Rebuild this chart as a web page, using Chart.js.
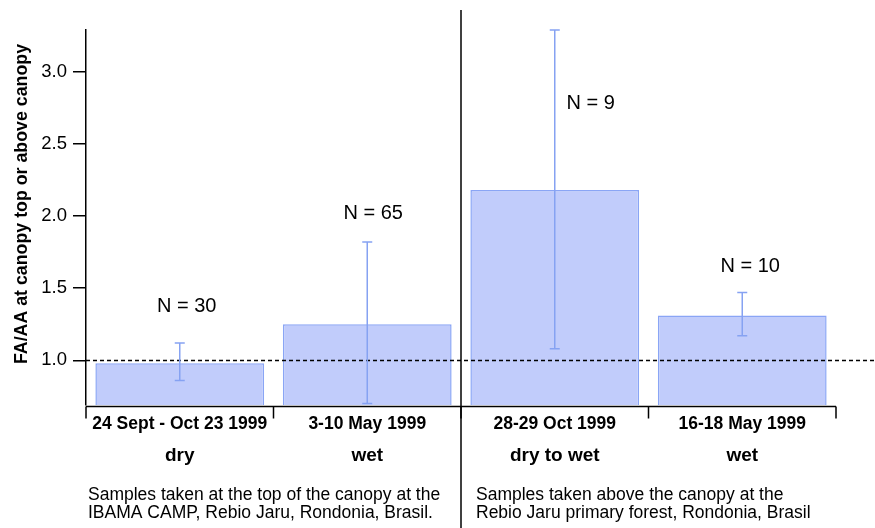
<!DOCTYPE html>
<html>
<head>
<meta charset="utf-8">
<script src="https://cdn.jsdelivr.net/npm/chart.js@4"></script>
<style>
  html, body { margin: 0; padding: 0; background: #fff; }
  #wrap { width: 875px; height: 528px; }
</style>
</head>
<body>
<div id="wrap"><canvas id="faChart" width="875" height="528"></canvas></div>
<script>
// Chart data
const dateLabels = ['24 Sept - Oct 23 1999', '3-10 May 1999', '28-29 Oct 1999', '16-18 May 1999'];
const seasonLabels = ['dry', 'wet', 'dry to wet', 'wet'];
const ratioMeans = [0.98, 1.25, 2.18, 1.31];
const errLow = [0.86, 0.70, 1.08, 1.17];
const errHigh = [1.12, 1.82, 3.29, 1.47];
const sampleCounts = [30, 65, 9, 10];
const yTicks = [1.0, 1.5, 2.0, 2.5, 3.0];
const yMin = 0.69;
const yMax = 3.29;
const refLine = 1.0;
const siteNotes = [
    ['Samples taken at the top of the canopy at the', 'IBAMA CAMP, Rebio Jaru, Rondonia, Brasil.'],
    ['Samples taken above the canopy at the', 'Rebio Jaru primary forest, Rondonia, Brasil']
];

// where the "N = .." text sits (x shift in px from bar centre, y in data units)
const nLabelSpots = [
    { dx: 7, y: 1.37 },
    { dx: 6, y: 2.02 },
    { dx: 36, y: 2.78 },
    { dx: 8, y: 1.65 }
];

const FONT = '"Liberation Sans", Arial, sans-serif';
const barFill = '#c1ccfb';
const barEdge = '#8aa5f5';
const errColor = '#86a2f2';

const extrasPlugin = {
    id: 'extras',
    afterDatasetsDraw(chart) {
        const ctx = chart.ctx;
        const x = chart.scales.x;
        const y = chart.scales.y;
        const area = chart.chartArea;

        ctx.save();

        // dashed reference line at 1.0
        ctx.strokeStyle = '#000';
        ctx.lineWidth = 1.5;
        ctx.setLineDash([4, 3]);
        const yRef = Math.round(y.getPixelForValue(refLine)) + 0.5;
        ctx.beginPath();
        ctx.moveTo(area.left, yRef);
        ctx.lineTo(875, yRef);
        ctx.stroke();
        ctx.setLineDash([]);

        // error bars
        ctx.strokeStyle = errColor;
        ctx.lineWidth = 1.5;
        ratioMeans.forEach((v, i) => {
            const cx = x.getPixelForValue(i);
            const yl = y.getPixelForValue(errLow[i]);
            const yh = y.getPixelForValue(errHigh[i]);
            ctx.beginPath();
            ctx.moveTo(cx, yl);
            ctx.lineTo(cx, yh);
            ctx.moveTo(cx - 5, yl);
            ctx.lineTo(cx + 5, yl);
            ctx.moveTo(cx - 5, yh);
            ctx.lineTo(cx + 5, yh);
            ctx.stroke();
        });

        // N labels
        ctx.fillStyle = '#000';
        ctx.font = '20px ' + FONT;
        ctx.textAlign = 'center';
        ctx.textBaseline = 'middle';
        sampleCounts.forEach((n, i) => {
            const spot = nLabelSpots[i];
            ctx.fillText('N = ' + n, x.getPixelForValue(i) + spot.dx, y.getPixelForValue(spot.y));
        });

        // bottom category axis with boundary ticks
        const half = (x.getPixelForValue(1) - x.getPixelForValue(0)) / 2;
        const axisY = area.bottom + 1.5;
        ctx.strokeStyle = '#000';
        ctx.lineWidth = 1.5;
        ctx.beginPath();
        ctx.moveTo(area.left, axisY);
        ctx.lineTo(area.right, axisY);
        for (let i = 0; i <= dateLabels.length; i++) {
            const bx = x.getPixelForValue(i) - half;
            ctx.moveTo(bx, axisY);
            ctx.lineTo(bx, axisY + 12);
        }
        ctx.stroke();

        // divider between the two sites
        const divX = x.getPixelForValue(2) - half;
        ctx.beginPath();
        ctx.moveTo(divX, 10);
        ctx.lineTo(divX, 528);
        ctx.stroke();

        // category and season labels
        ctx.fillStyle = '#000';
        ctx.textAlign = 'center';
        dateLabels.forEach((lab, i) => {
            const cx = x.getPixelForValue(i);
            ctx.font = 'bold 17.5px ' + FONT;
            ctx.fillText(lab, cx, 424);
            ctx.font = 'bold 19px ' + FONT;
            ctx.fillText(seasonLabels[i], cx, 456);
        });

        // site notes
        ctx.font = '17.5px ' + FONT;
        ctx.textAlign = 'left';
        const noteX = [x.getPixelForValue(0) - half + 2, x.getPixelForValue(2) - half + 15];
        siteNotes.forEach((lines, k) => {
            lines.forEach((line, j) => {
                ctx.fillText(line, noteX[k], 495 + j * 18);
            });
        });

        // y axis title
        ctx.save();
        ctx.translate(22, 204);
        ctx.rotate(-Math.PI / 2);
        ctx.font = 'bold 17.8px ' + FONT;
        ctx.textAlign = 'center';
        ctx.fillText('FA/AA at canopy top or above canopy', 0, 0);
        ctx.restore();

        ctx.restore();
    }
};

const ctx = document.getElementById('faChart');
new Chart(ctx, {
    type: 'bar',
    data: {
        labels: dateLabels,
        datasets: [{
            data: ratioMeans,
            backgroundColor: barFill,
            borderColor: barEdge,
            borderWidth: 1.5,
            categoryPercentage: 1.0,
            barPercentage: 0.9
        }]
    },
    options: {
        responsive: false,
        animation: false,
        layout: {
            padding: { top: 30, right: 39, bottom: 123, left: 0 }
        },
        plugins: {
            legend: { display: false },
            tooltip: { enabled: false }
        },
        scales: {
            x: {
                display: false
            },
            y: {
                min: yMin,
                max: yMax,
                afterFit: function(scale) {
                    scale.width = 86;
                },
                afterBuildTicks: function(scale) {
                    scale.ticks = yTicks.map(v => ({ value: v }));
                },
                border: {
                    display: true,
                    color: '#000',
                    width: 1.5
                },
                grid: {
                    drawOnChartArea: false,
                    drawTicks: true,
                    tickLength: 13,
                    tickColor: '#000',
                    lineWidth: 1.5
                },
                ticks: {
                    color: '#000',
                    padding: 6,
                    font: { family: FONT, size: 18.5 },
                    callback: function(value) {
                        return value.toFixed(1);
                    }
                }
            }
        }
    },
    plugins: [extrasPlugin]
});
</script>
</body>
</html>
